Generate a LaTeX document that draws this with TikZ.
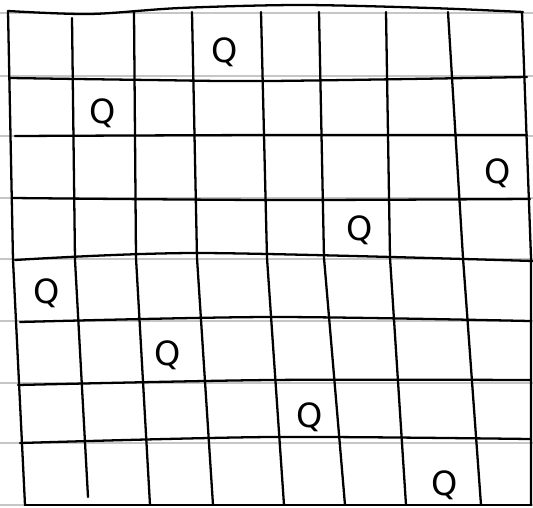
\documentclass[tikz,border=0pt]{standalone}
\usepackage{fontspec}
\usetikzlibrary{positioning}
\newfontfamily\handfont{DejaVu Sans}

\tikzset{
  gridline/.style={line width=1.3pt, line cap=round, line join=round},
  ruled/.style={gray!45, line width=0.6pt},
  queen/.style={font=\handfont\fontsize{19}{22}\selectfont, inner sep=0pt}
}

\begin{document}
\begin{tikzpicture}[x=0.02cm, y=-0.02cm]
  \useasboundingbox (0,0) rectangle (533,507);

  % ruled paper
  \foreach \y in {13,76,136,198,259,321,383,443,505}
    \draw[ruled] (0,\y) -- (533,\y);

  % columns
  \draw[gridline] (8,11) -- (13,260) -- (25,505);
  \draw[gridline] (72,18) -- (75,260) -- (88,497);
  \foreach \xa/\xb/\xc in {134/136/150, 192/197/213, 261/267/284, 319/324/345, 386/390/406, 448/463/481, 522/531/531}
    \draw[gridline] (\xa,12) -- (\xb,258) -- (\xc,505);

  % rows
  \draw[gridline] plot[smooth] coordinates {(8,11) (90,14) (180,8) (300,5) (430,8) (523,12)};
  \draw[gridline] plot[smooth] coordinates {(10,78) (150,80) (270,81) (527,77)};
  \draw[gridline] plot[smooth] coordinates {(15,136) (270,135) (527,135)};
  \draw[gridline] plot[smooth] coordinates {(12,198) (270,200) (530,199)};
  \draw[gridline] plot[smooth] coordinates {(15,260) (200,253) (533,261)};
  \draw[gridline] plot[smooth] coordinates {(20,322) (270,317) (530,321)};
  \draw[gridline] plot[smooth] coordinates {(18,385) (270,380) (530,380)};
  \draw[gridline] plot[smooth] coordinates {(20,443) (270,437) (530,439)};
  \draw[gridline] (25,505) -- (531,505);

  % queens
  \node[queen] (q1) at (225,52) {Q};
  \node[queen] (q2) at (103,113) {Q};
  \node[queen] (q3) at (498,173) {Q};
  \node[queen] (q4) at (360,230) {Q};
  \node[queen] (q5) at (47,293) {Q};
  \node[queen] (q6) at (168,355) {Q};
  \node[queen] (q7) at (310,417) {Q};
  \node[queen] (q8) at (445,485) {Q};
\end{tikzpicture}
\end{document}
